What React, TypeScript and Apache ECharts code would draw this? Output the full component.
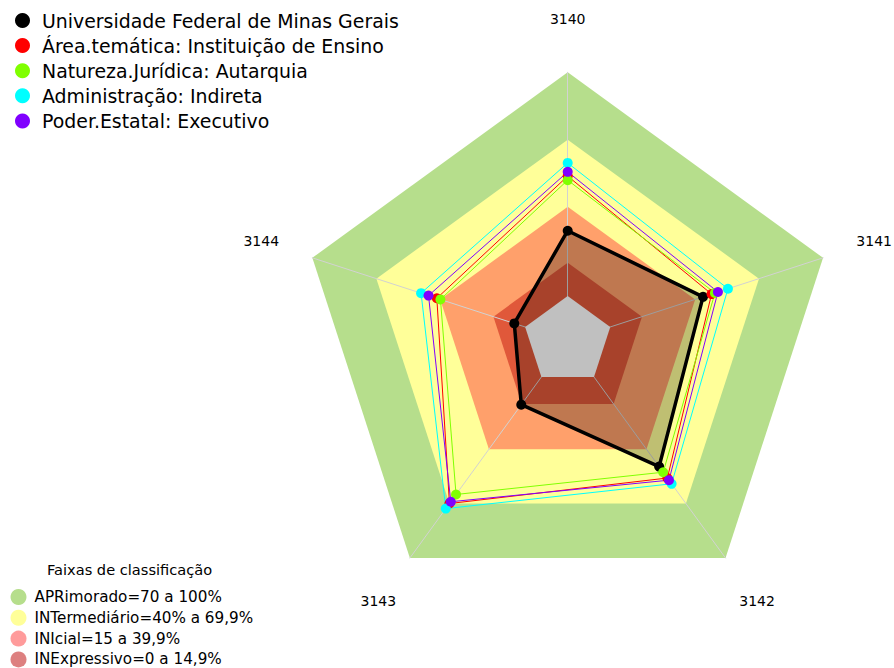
import React, { useEffect, useRef } from "react";
import * as echarts from "echarts";

// Indicator categories, listed clockwise from the top as in the reference
const categories = ["3140", "3141", "3142", "3143", "3144"];

// Series (values in % for each category, same order as categories)
const seriesNames = [
  "Universidade Federal de Minas Gerais",
  "Área.temática: Instituição de Ensino",
  "Natureza.Jurídica: Autarquia",
  "Administração: Indireta",
  "Poder.Estatal: Executivo",
];
const ufmg = [29.2, 43.6, 49.5, 15.3, 5.1];
const areaTematica = [53.6, 47.6, 55.8, 69.9, 41.5];
const naturezaJuridica = [51.8, 49.2, 52.6, 64.9, 39.8];
const administracao = [59.5, 55.3, 59.0, 72.7, 48.9];
const poderEstatal = [55.5, 50.6, 57.0, 68.9, 45.4];
const seriesValues = [ufmg, areaTematica, naturezaJuridica, administracao, poderEstatal];
const seriesColors = ["#000000", "#ff0000", "#80ff00", "#00ffff", "#8000ff"];

// Classification bands
const bandTitle = "Faixas de classificação";
const bandNames = [
  "APRimorado=70 a 100%",
  "INTermediário=40% a 69,9%",
  "INIcial=15 a 39,9%",
  "INExpressivo=0 a 14,9%",
];
const bandUpper = [100, 69.9, 39.9, 14.9];
const bandFill = ["#b6de8c", "#ffff99", "#ffa06b", "#e0583a"];
const bandLegendColor = ["#b6de8c", "#ffff99", "#ff9b9b", "#dd8080"];

const axisMin = -20;
const axisMax = 100;

// ECharts lays indicators out counter-clockwise; map clockwise categories to that order
const ccwOrder = [0, 4, 3, 2, 1];
const reorder = (arr: any[]) => ccwOrder.map((i) => arr[i]);

export default function App() {
  const ref = useRef<HTMLDivElement>(null);

  useEffect(() => {
    if (!ref.current) return;
    const chart = echarts.init(ref.current, undefined, { renderer: "svg" });

    const bandSeries = bandNames.map((name, k) => ({
      type: "radar",
      name,
      z: 1,
      silent: true,
      symbol: "none",
      lineStyle: { width: 0, opacity: 0 },
      itemStyle: { color: bandFill[k] },
      areaStyle: { color: bandFill[k], opacity: 1 },
      data: [{ name, value: categories.map(() => bandUpper[k]) }],
    }));

    const holeSeries = {
      type: "radar",
      name: "hole",
      z: 3,
      silent: true,
      symbol: "none",
      lineStyle: { width: 0, opacity: 0 },
      itemStyle: { color: "#c0c0c0" },
      areaStyle: { color: "#c0c0c0", opacity: 1 },
      data: [{ name: "hole", value: categories.map(() => 0) }],
    };

    const dataSeries = seriesNames.map((name, k) => ({
      type: "radar",
      name,
      z: 3,
      symbol: "circle",
      symbolSize: 10,
      lineStyle: { color: seriesColors[k], width: k === 0 ? 3.5 : 1 },
      itemStyle: { color: seriesColors[k], borderWidth: 0 },
      areaStyle: k === 0 ? { color: "rgba(0,0,0,0.25)", opacity: 1 } : undefined,
      data: [{ name, value: reorder(seriesValues[k]) }],
    }));

    const option: any = {
      animation: false,
      backgroundColor: "#ffffff",
      radar: {
        center: [567.7, 340.8],
        radius: 268.5,
        startAngle: 90,
        shape: "polygon",
        z: 2,
        splitNumber: 6,
        indicator: reorder(categories).map((name: string) => ({ name, min: axisMin, max: axisMax })),
        axisName: {
          color: "#000",
          fontFamily: "DejaVu Sans",
          fontSize: 14,
          align: "center",
          verticalAlign: "middle",
        },
        axisNameGap: 53.7,
        axisLine: { show: true, lineStyle: { color: "#d2d2d2", width: 1 } },
        axisTick: { show: false },
        axisLabel: { show: false },
        splitLine: { show: false },
        splitArea: { show: false },
      },
      legend: [
        {
          orient: "vertical",
          left: 15,
          top: 11,
          padding: 0,
          icon: "circle",
          itemWidth: 15,
          itemHeight: 15,
          itemGap: 6.1,
          selectedMode: false,
          itemStyle: { borderWidth: 0 },
          textStyle: {
            fontFamily: "DejaVu Sans",
            fontSize: 18.9,
            lineHeight: 18,
            color: "#000",
            padding: [0, 0, 0, 7],
          },
          data: seriesNames.map((name, k) => ({ name, itemStyle: { color: seriesColors[k] } })),
        },
        {
          orient: "vertical",
          left: 10.5,
          top: 589,
          height: 100,
          padding: 0,
          icon: "circle",
          itemWidth: 16,
          itemHeight: 16,
          itemGap: 4.8,
          selectedMode: false,
          itemStyle: { borderWidth: 0 },
          textStyle: {
            fontFamily: "DejaVu Sans",
            fontSize: 15.2,
            lineHeight: 16,
            color: "#000",
            padding: [0, 0, 0, 3],
          },
          data: bandNames.map((name, k) => ({ name, itemStyle: { color: bandLegendColor[k] } })),
        },
      ],
      graphic: [
        {
          type: "text",
          left: 130 - 83,
          top: 562,
          style: {
            text: bandTitle,
            fontFamily: "DejaVu Sans",
            fontSize: 14.6,
            fill: "#000",
          },
        },
      ],
      series: [...bandSeries, dataSeries[0], holeSeries, ...dataSeries.slice(1)],
    };

    chart.setOption(option);
    return () => chart.dispose();
  }, []);

  return (
    <div
      ref={ref}
      style={{ position: "fixed", left: 0, top: 0, width: 894, height: 668, background: "#fff" }}
    />
  );
}
